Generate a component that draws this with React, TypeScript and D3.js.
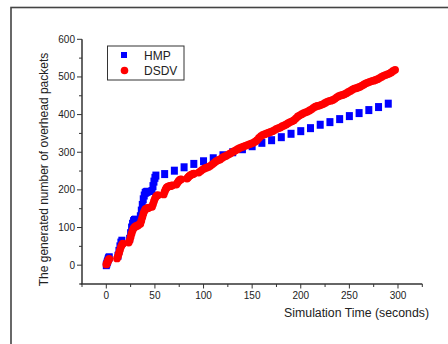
import React from "react";
import * as d3 from "d3";

const hmpTime = [0, 0.5, 1, 1.5, 2, 2.5, 3, 12, 13, 14, 15, 16, 24, 25, 26, 27, 28, 29, 30, 35, 36, 37, 38, 39, 40, 41, 42, 47, 48, 49, 50, 51,
  60, 70, 80, 90, 100, 110, 120, 130, 140, 150, 160, 170, 180, 190, 200, 210, 220, 230, 240, 250, 260, 270, 280, 290];
const hmpValue = [0, 4, 8, 12, 16, 19, 21, 25, 38, 50, 60, 65, 70, 85, 100, 110, 117, 120, 121, 130, 145, 160, 175, 185, 192, 194, 195, 197, 210, 222, 232, 238,
  242, 251, 260, 269, 276, 284, 292, 300, 308, 316, 325, 332, 340, 349, 356, 364, 373, 380, 388, 396, 404, 412, 420, 429];

const dsdvTime = [0, 0.5, 1, 1.5, 2, 2.5, 3,
  11, 12, 13, 14, 15, 16, 17,
  23, 24, 25, 26, 27, 28, 29, 30, 31, 32, 33,
  35, 36, 37, 38, 39, 40, 41, 42, 43, 44,
  47, 48, 49, 50, 51, 52, 53,
  59, 60, 61, 62, 63, 64, 65, 66, 67, 68,
  72, 73, 74, 75, 76, 77,
  83, 84, 85, 86, 87, 88, 89, 90,
  95, 97, 99, 101, 103, 105, 107, 109, 111, 113, 115, 117, 119, 121, 123, 125, 127, 129, 131, 133, 135, 137, 139,
  141, 143, 145, 147, 149, 151, 153, 155, 157, 159, 161, 163, 165, 167, 169, 171, 173, 175, 177, 179, 181, 183, 185, 187, 189,
  191, 193, 195, 197, 199, 201, 203, 205, 207, 209, 211, 213, 215, 217, 219, 221, 223, 225, 227, 229, 231, 233, 235, 237, 239,
  241, 243, 245, 247, 249, 251, 253, 255, 257, 259, 261, 263, 265, 267, 269, 271, 273, 275, 277, 279, 281, 283, 285, 287, 289,
  291, 293, 295, 297];
const dsdvValue = [2, 4, 7, 10, 13, 15, 17,
  18, 24, 32, 40, 48, 54, 57,
  60, 66, 75, 84, 92, 98, 101, 103, 104, 105, 107,
  110, 118, 127, 136, 143, 148, 150, 151, 152, 153,
  155, 162, 170, 177, 182, 185, 186,
  188, 195, 201, 206, 208, 209, 210, 210, 211, 212,
  214, 218, 222, 225, 227, 228,
  230, 233, 236, 238, 240, 241, 242, 243,
  246, 250, 254, 257, 259, 261, 264, 268, 272, 276, 279, 281, 285, 288, 290, 293, 296, 299, 302, 305, 308, 311, 313,
  315, 317, 319, 321, 323, 325, 328, 332, 338, 343, 346, 348, 350, 352, 354, 356, 359, 362, 364, 366, 369, 371, 374, 377, 380,
  382, 385, 390, 395, 398, 401, 404, 406, 408, 411, 414, 418, 421, 423, 424, 426, 428, 431, 434, 436, 437, 439, 442, 446, 449,
  451, 452, 454, 457, 460, 463, 466, 469, 470, 472, 474, 477, 480, 483, 485, 487, 489, 490, 492, 494, 497, 500, 503, 505, 507,
  509, 512, 516, 519];

const xTickLabels = [0, 50, 100, 150, 200, 250, 300];
const yTickLabels = [0, 100, 200, 300, 400, 500, 600];
const seriesNames = ["HMP", "DSDV"];

export default function App() {
  const W = 448, H = 344;
  const x = d3.scaleLinear().domain([-25, 325]).range([82, 422.3]);
  const y = d3.scaleLinear().domain([-50, 600]).range([284, 39.3]);
  const axisColor = "#333";
  const font = "Liberation Sans, Arial, sans-serif";
  const xMinor = d3.range(-25, 326, 25);
  const yMinor = d3.range(-50, 601, 50);
  const sq = 7;

  return (
    <svg width={W} height={H} style={{ position: "absolute", left: 0, top: 0, background: "#fff" }} fontFamily={font}>
      <rect x={0} y={0} width={W} height={H} fill="#fff" />
      <rect x={11} y={7.5} width={470} height={400} fill="none" stroke="#444" strokeWidth={1.6} />
      {/* data */}
      {hmpTime.map((t, i) => (
        <rect key={"h" + i} x={x(t) - sq / 2} y={y(hmpValue[i]) - 4} width={sq} height={8} fill="#0000ff" />
      ))}
      {dsdvTime.map((t, i) => (
        <circle key={"d" + i} cx={x(t)} cy={y(dsdvValue[i])} r={3.9} fill="#ff0000" />
      ))}
      {/* axes */}
      <line x1={80.5} x2={422.3} y1={284} y2={284} stroke={axisColor} strokeWidth={1.5} />
      <line x1={82} x2={82} y1={39.3} y2={284} stroke={axisColor} strokeWidth={1.5} />
      {xMinor.map((v) => {
        const major = v % 50 === 0;
        return <line key={"xt" + v} x1={x(v)} x2={x(v)} y1={284} y2={284 + (major ? 4.5 : 3)} stroke={axisColor} strokeWidth={1} />;
      })}
      {yMinor.map((v) => {
        const major = v % 100 === 0;
        return <line key={"yt" + v} x1={82} x2={82 - (major ? 5 : 3)} y1={y(v)} y2={y(v)} stroke={axisColor} strokeWidth={1} />;
      })}
      {xTickLabels.map((v) => (
        <text key={"xl" + v} x={x(v)} y={299} textAnchor="middle" fontSize={10} fill="#222">{v}</text>
      ))}
      {yTickLabels.map((v) => (
        <text key={"yl" + v} x={75} y={y(v) + 3.5} textAnchor="end" fontSize={10} fill="#222">{v}</text>
      ))}
      <text x={429} y={317} textAnchor="end" fontSize={12.3} fill="#222">Simulation Time (seconds)</text>
      <text transform={`translate(48,169.5) rotate(-90)`} textAnchor="middle" fontSize={12} fill="#222">The generated number of overhead packets</text>
      {/* legend */}
      <rect x={107.5} y={46} width={76.5} height={34} fill="#fff" stroke="#333" strokeWidth={1} />
      <rect x={121} y={52} width={6} height={6} fill="#0000ff" />
      <circle cx={124.5} cy={70.5} r={3.8} fill="#ff0000" />
      <text x={144} y={60} fontSize={12} fill="#222">{seriesNames[0]}</text>
      <text x={144} y={75} fontSize={12} fill="#222">{seriesNames[1]}</text>
    </svg>
  );
}
